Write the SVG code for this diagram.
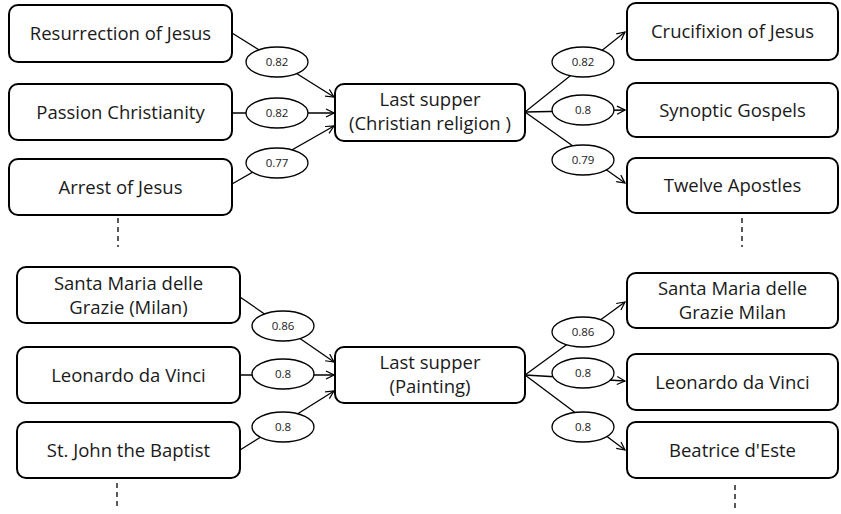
<svg xmlns="http://www.w3.org/2000/svg" width="841" height="514" viewBox="0 0 841 514">
<defs>
<marker id="arr" markerWidth="10" markerHeight="10" refX="9" refY="5" orient="auto" markerUnits="userSpaceOnUse">
<path d="M1,1 L9,5 L1,9" fill="none" stroke="#000" stroke-width="1.2"/>
</marker>
<style>
.box{fill:#fff;stroke:#000;stroke-width:2}
.t{font-family:"Open Sans","Liberation Sans",sans-serif;font-size:18.5px;fill:#1a1a1a;text-anchor:middle}
.el{fill:#fff;stroke:#000;stroke-width:1.3}
.w{font-family:"Open Sans","Liberation Sans",sans-serif;font-size:11.5px;fill:#1a1a1a;text-anchor:middle}
.ln{stroke:#000;stroke-width:1.3;fill:none}
.dash{stroke:#000;stroke-width:1.3;stroke-dasharray:5,4;fill:none}
</style>
</defs>
<rect width="841" height="514" fill="#fff"/>
<g id="connectors">
<line class="ln" x1="232" y1="33" x2="334" y2="97" marker-end="url(#arr)"/>
<line class="ln" x1="232" y1="113" x2="334" y2="113" marker-end="url(#arr)"/>
<line class="ln" x1="232" y1="184" x2="334" y2="126" marker-end="url(#arr)"/>
<line class="ln" x1="525" y1="112" x2="625" y2="32" marker-end="url(#arr)"/>
<line class="ln" x1="525" y1="112" x2="625" y2="110" marker-end="url(#arr)"/>
<line class="ln" x1="525" y1="112" x2="625" y2="183" marker-end="url(#arr)"/>
<line class="ln" x1="240" y1="297" x2="334" y2="362" marker-end="url(#arr)"/>
<line class="ln" x1="240" y1="375" x2="334" y2="375" marker-end="url(#arr)"/>
<line class="ln" x1="240" y1="450" x2="334" y2="391" marker-end="url(#arr)"/>
<line class="ln" x1="525" y1="375" x2="625" y2="302" marker-end="url(#arr)"/>
<line class="ln" x1="525" y1="375" x2="625" y2="381" marker-end="url(#arr)"/>
<line class="ln" x1="525" y1="375" x2="625" y2="450" marker-end="url(#arr)"/>
<line class="dash" x1="118" y1="218" x2="118" y2="247"/>
<line class="dash" x1="742" y1="218" x2="742" y2="247"/>
<line class="dash" x1="117" y1="483" x2="117" y2="510"/>
<line class="dash" x1="735" y1="485" x2="735" y2="510"/>
</g>
<g id="weights">
<ellipse class="el" cx="277" cy="62" rx="31" ry="15"/><text class="w" x="277" y="66">0.82</text>
<ellipse class="el" cx="277" cy="113" rx="31" ry="15"/><text class="w" x="277" y="117">0.82</text>
<ellipse class="el" cx="277" cy="163" rx="31" ry="15"/><text class="w" x="277" y="167">0.77</text>
<ellipse class="el" cx="583" cy="62" rx="31" ry="15"/><text class="w" x="583" y="66">0.82</text>
<ellipse class="el" cx="583" cy="110" rx="31" ry="15"/><text class="w" x="583" y="114">0.8</text>
<ellipse class="el" cx="583" cy="160" rx="31" ry="15"/><text class="w" x="583" y="164">0.79</text>
<ellipse class="el" cx="283" cy="326" rx="31" ry="15"/><text class="w" x="283" y="330">0.86</text>
<ellipse class="el" cx="283" cy="374" rx="31" ry="15"/><text class="w" x="283" y="378">0.8</text>
<ellipse class="el" cx="283" cy="427" rx="31" ry="15"/><text class="w" x="283" y="431">0.8</text>
<ellipse class="el" cx="583" cy="332" rx="31" ry="15"/><text class="w" x="583" y="336">0.86</text>
<ellipse class="el" cx="583" cy="373" rx="31" ry="15"/><text class="w" x="583" y="377">0.8</text>
<ellipse class="el" cx="583" cy="427" rx="31" ry="15"/><text class="w" x="583" y="431">0.8</text>
</g>
<g id="n-resurrection"><rect class="box" x="9" y="5" width="223" height="57" rx="9"/><text class="t" x="120.5" y="40">Resurrection of Jesus</text></g>
<g id="n-passion"><rect class="box" x="9" y="84" width="223" height="56" rx="9"/><text class="t" x="120.5" y="119">Passion Christianity</text></g>
<g id="n-arrest"><rect class="box" x="9" y="159" width="223" height="56" rx="9"/><text class="t" x="120.5" y="194">Arrest of Jesus</text></g>
<g id="n-lastsupper-rel"><rect class="box" x="335" y="84" width="190" height="57" rx="9"/><text class="t" x="430" y="106">Last supper</text><text class="t" x="430" y="130">(Christian religion )</text></g>
<g id="n-crucifixion"><rect class="box" x="627" y="3" width="211" height="57" rx="9"/><text class="t" x="732.5" y="38">Crucifixion of Jesus</text></g>
<g id="n-synoptic"><rect class="box" x="627" y="83" width="211" height="54" rx="9"/><text class="t" x="732.5" y="117">Synoptic Gospels</text></g>
<g id="n-twelve"><rect class="box" x="627" y="158" width="211" height="55" rx="9"/><text class="t" x="732.5" y="192">Twelve Apostles</text></g>
<g id="n-santamaria-l"><rect class="box" x="17" y="267" width="223" height="56" rx="9"/><text class="t" x="128.5" y="290">Santa Maria delle</text><text class="t" x="128.5" y="314">Grazie (Milan)</text></g>
<g id="n-leonardo-l"><rect class="box" x="17" y="347" width="223" height="56" rx="9"/><text class="t" x="128.5" y="382">Leonardo da Vinci</text></g>
<g id="n-john"><rect class="box" x="17" y="422" width="223" height="56" rx="9"/><text class="t" x="128.5" y="457">St. John the Baptist</text></g>
<g id="n-lastsupper-paint"><rect class="box" x="335" y="347" width="190" height="56" rx="9"/><text class="t" x="430" y="369">Last supper</text><text class="t" x="430" y="393">(Painting)</text></g>
<g id="n-santamaria-r"><rect class="box" x="627" y="273" width="211" height="55" rx="9"/><text class="t" x="732.5" y="295">Santa Maria delle</text><text class="t" x="732.5" y="319">Grazie Milan</text></g>
<g id="n-leonardo-r"><rect class="box" x="627" y="354" width="211" height="56" rx="9"/><text class="t" x="732.5" y="389">Leonardo da Vinci</text></g>
<g id="n-beatrice"><rect class="box" x="627" y="422" width="211" height="56" rx="9"/><text class="t" x="732.5" y="457">Beatrice d'Este</text></g>
</svg>
